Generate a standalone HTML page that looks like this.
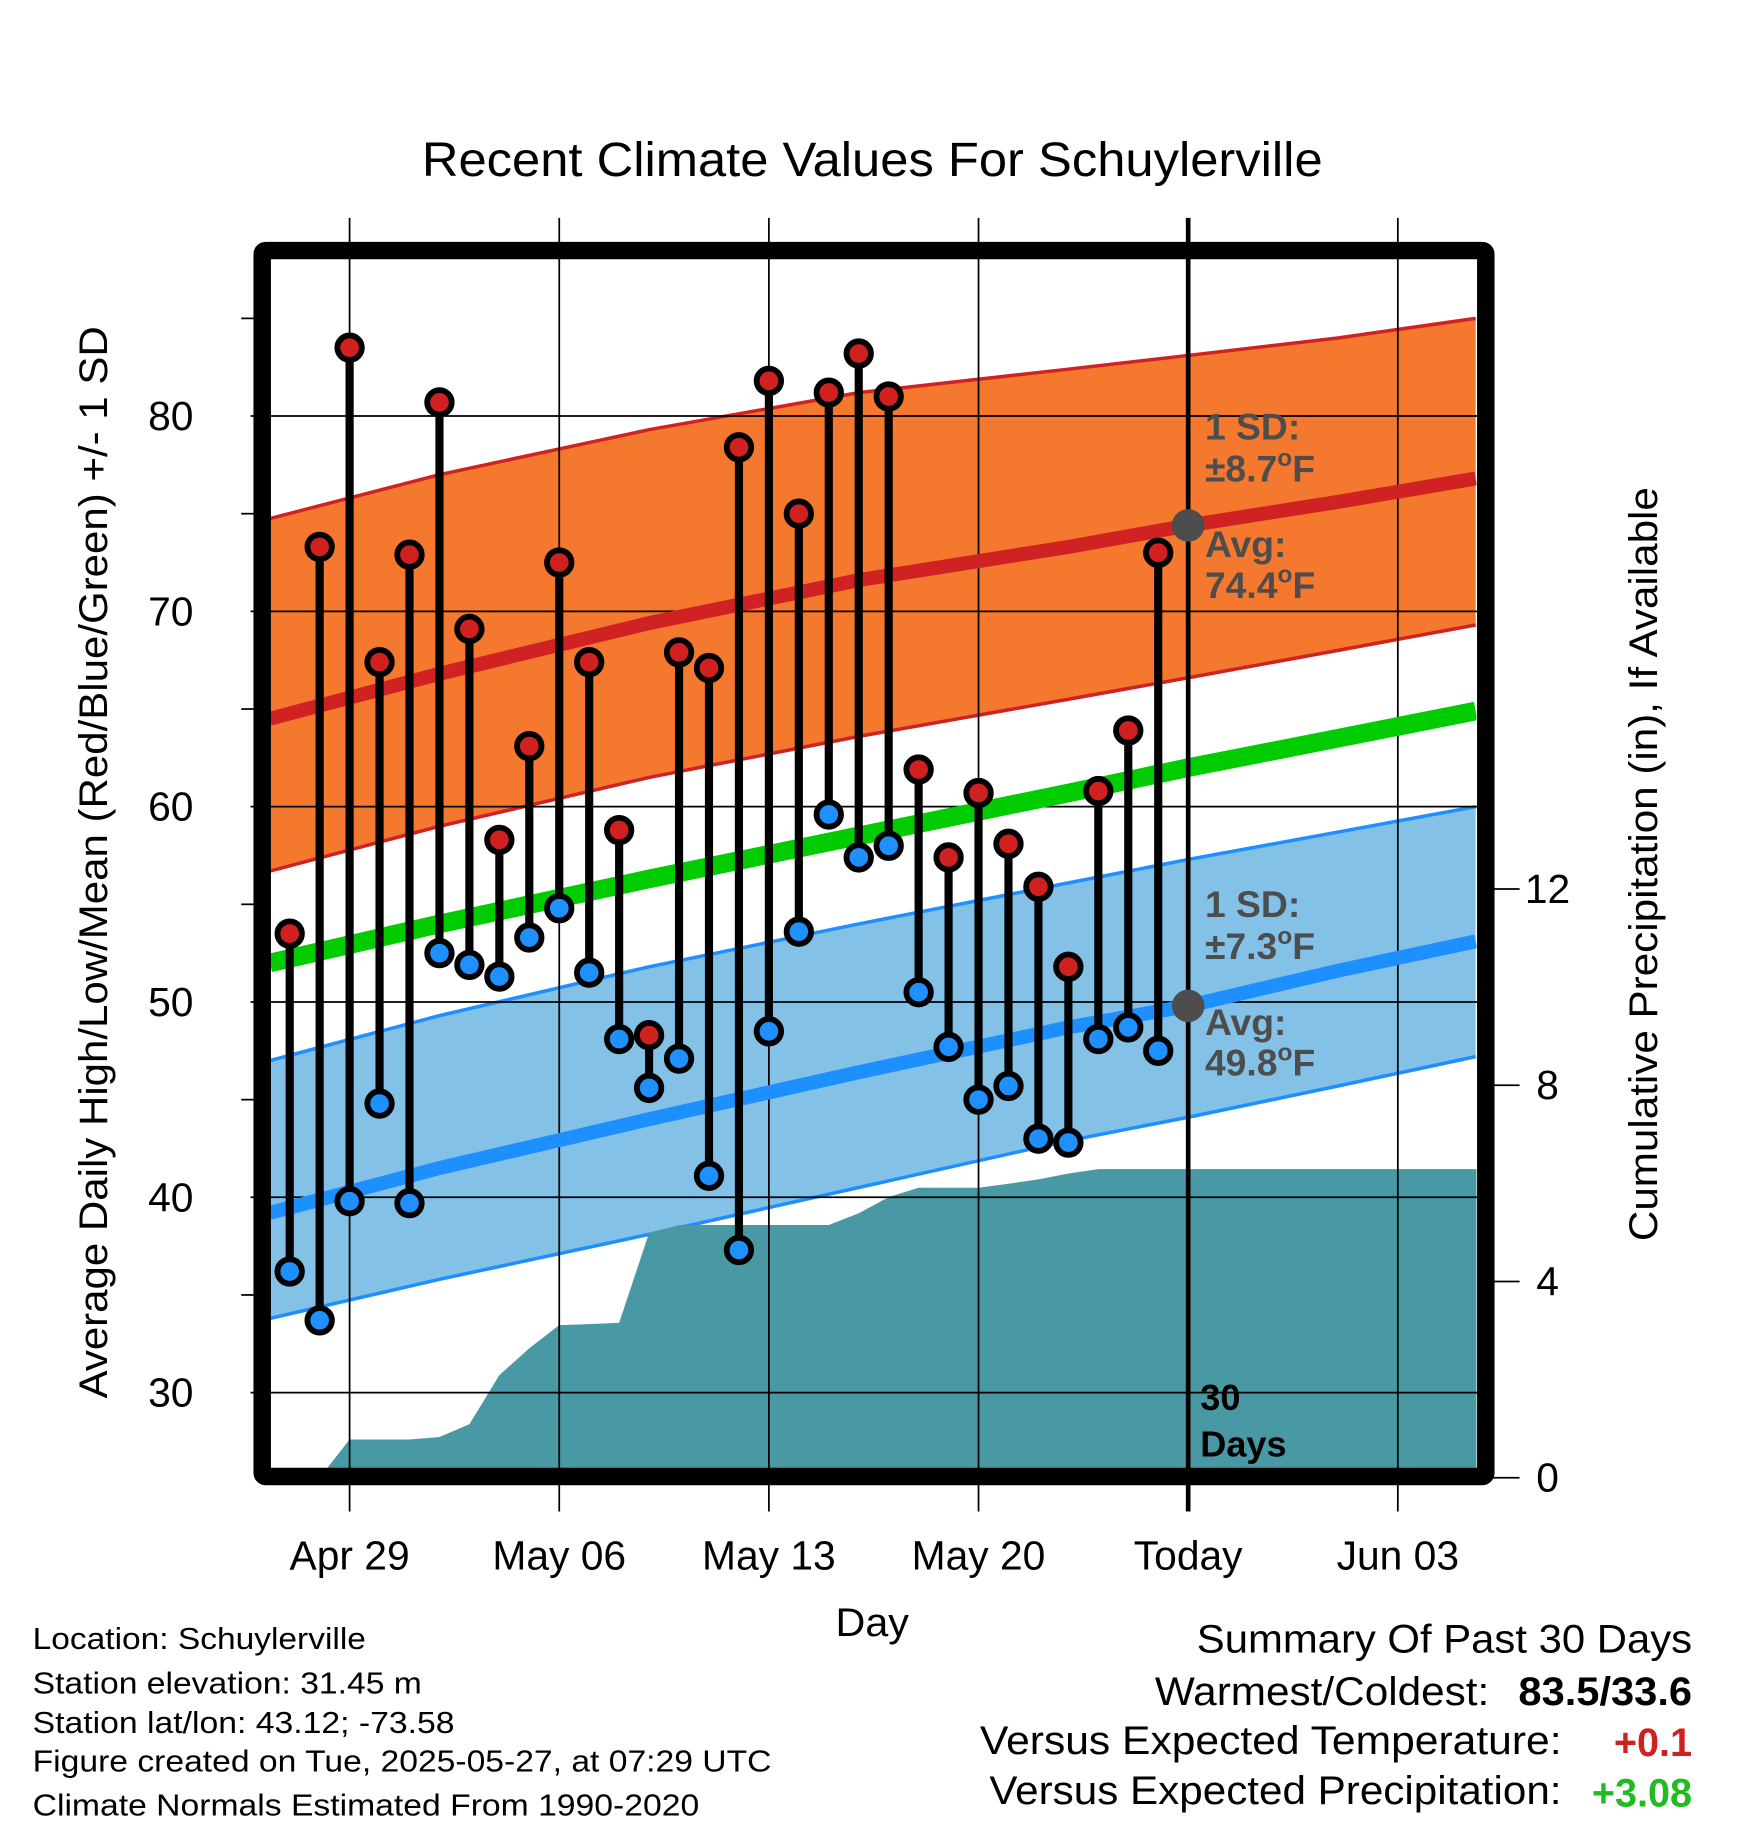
<!DOCTYPE html>
<html><head><meta charset="utf-8"><style>
html,body{margin:0;padding:0;background:#fff;}
svg{display:block;}
text{font-family:"Liberation Sans",Arial,sans-serif;}
</style></head><body>
<svg id="chart" width="1748" height="1828" viewBox="0 0 1500 1568.6" preserveAspectRatio="none" xmlns="http://www.w3.org/2000/svg">
<defs><clipPath id="plotclip"><rect x="232" y="222" width="1035" height="1038"/></clipPath></defs>
<text x="362" y="151" font-size="41" textLength="773" lengthAdjust="spacingAndGlyphs">Recent Climate Values For Schuylerville</text>
<g id="plot" clip-path="url(#plotclip)"></g>
<g id="over"></g>
<text transform="translate(92,1200) rotate(-90)" font-size="34" textLength="920" lengthAdjust="spacingAndGlyphs">Average Daily High/Low/Mean (Red/Blue/Green) +/- 1 SD</text>
<text transform="translate(1422,1065) rotate(-90)" font-size="34" textLength="647" lengthAdjust="spacingAndGlyphs">Cumulative Precipitation (in), If Available</text>
<text x="717" y="1404" font-size="34" textLength="63" lengthAdjust="spacingAndGlyphs">Day</text>
<g font-size="26">
<text x="28" y="1415" textLength="286" lengthAdjust="spacingAndGlyphs">Location: Schuylerville</text>
<text x="28" y="1453" textLength="334" lengthAdjust="spacingAndGlyphs">Station elevation: 31.45 m</text>
<text x="28" y="1487" textLength="362" lengthAdjust="spacingAndGlyphs">Station lat/lon: 43.12; -73.58</text>
<text x="28" y="1520" textLength="634" lengthAdjust="spacingAndGlyphs">Figure created on Tue, 2025-05-27, at 07:29 UTC</text>
<text x="28" y="1558" textLength="572" lengthAdjust="spacingAndGlyphs">Climate Normals Estimated From 1990-2020</text>
</g>
<g font-size="34">
<text x="1027" y="1418" textLength="425" lengthAdjust="spacingAndGlyphs">Summary Of Past 30 Days</text>
<text x="991" y="1463" textLength="287" lengthAdjust="spacingAndGlyphs">Warmest/Coldest:</text>
<text x="1303" y="1463" font-weight="bold" textLength="149" lengthAdjust="spacingAndGlyphs">83.5/33.6</text>
<text x="841" y="1505" textLength="499" lengthAdjust="spacingAndGlyphs">Versus Expected Temperature:</text>
<text x="1452" y="1507" font-weight="bold" fill="#d02020" text-anchor="end">+0.1</text>
<text x="849" y="1548" textLength="491" lengthAdjust="spacingAndGlyphs">Versus Expected Precipitation:</text>
<text x="1452" y="1550" font-weight="bold" fill="#22bb22" text-anchor="end">+3.08</text>
</g>
</svg>
<script>
const days=[-2,-1,0,1,2,3,4,5,6,7,8,9,10,11,12,13,14,15,16,17,18,19,20,21,22,23,24,25,26,27];
const highs=[53.5,73.3,83.5,67.4,72.9,80.7,69.1,58.3,63.1,72.5,67.4,58.8,48.3,67.9,67.1,78.4,81.8,75.0,81.2,83.2,81.0,61.9,57.4,60.7,58.1,55.9,51.8,60.8,63.9,73.0];
const lows=[36.2,33.7,39.8,44.8,39.7,52.5,51.9,51.3,53.3,54.8,51.5,48.1,45.6,47.1,41.1,37.3,48.5,53.6,59.6,57.4,58.0,50.5,47.7,45.0,45.7,43.0,42.8,48.1,48.7,47.5];
const normDays=[-2.66,3,10,17,24,28,33,37.6];
const highMean=[64.5,66.8,69.4,71.6,73.3,74.4,75.6,76.8];
const highUpper=[74.75,77.0,79.3,81.2,82.4,83.1,84.0,85.0];
const highLower=[56.7,59.0,61.5,63.6,65.5,66.6,68.0,69.3];
const lowMean=[39.2,41.5,44.0,46.4,48.7,49.8,51.6,53.1];
const lowUpper=[47.0,49.3,51.8,54.0,56.1,57.3,58.7,60.0];
const lowLower=[33.8,35.8,38.1,40.5,42.9,44.1,45.7,47.2];
const dailyMean=[52.0,54.0,56.3,58.5,60.7,62.0,63.5,64.9];
const precipDays=[-1,0,1,2,3,4,5,6,7,8,9,10,11,12,13,14,15,16,17,18,19,20,21,22,23,24,25,26,27,38];
const precipCum=[0,0.78,0.78,0.78,0.83,1.09,2.09,2.64,3.11,3.13,3.16,4.99,5.15,5.15,5.15,5.15,5.15,5.15,5.39,5.72,5.91,5.91,5.91,5.99,6.08,6.2,6.29,6.29,6.29,6.29];
const xTickDays=[0,7,14,21,28,35];
const xTickLabels=["Apr 29","May 06","May 13","May 20","Today","Jun 03"];
const yTicks=[30,40,50,60,70,80];
const y2Ticks=[0,4,8,12];
const todayDay=28;

const X=d=>300+d*25.7;
const Y=v=>1195-(v-30)*16.76;
const YP=p=>1268-p*42.1;
const NS='http://www.w3.org/2000/svg';
const plot=document.getElementById('plot'), over=document.getElementById('over');
function mk(tag,attrs,parent){const e=document.createElementNS(NS,tag);for(const k in attrs)e.setAttribute(k,attrs[k]);parent.appendChild(e);return e;}
function linePts(ds,vs){return ds.map((d,i)=>X(d).toFixed(1)+','+Y(vs[i]).toFixed(1)).join(' ');}
function band(up,lo,fill,edge,name){
  const pts=linePts(normDays,up)+' '+normDays.slice().reverse().map((d,i)=>X(d).toFixed(1)+','+Y(lo[lo.length-1-i]).toFixed(1)).join(' ');
  let e=mk('polygon',{points:pts,fill:fill},plot);
  
  
  e=mk('polyline',{points:linePts(normDays,up),fill:'none',stroke:edge,'stroke-width':3},plot);
  
  
  e=mk('polyline',{points:linePts(normDays,lo),fill:'none',stroke:edge,'stroke-width':3},plot);
  
  
}
band(highUpper,highLower,'#f4782e','#d02222','high-sd-band');
band(lowUpper,lowLower,'#84c1e6','#1e8fff','low-sd-band');
{
 const pts=precipDays.map((d,i)=>X(d).toFixed(1)+','+YP(precipCum[i]).toFixed(1)).join(' ')+' '+X(38)+','+1300+' '+X(-1)+','+1300;
 const e=mk('polygon',{points:pts,fill:'#4899a3'},plot);
 
 
}
yTicks.forEach(v=>{const e=mk('line',{x1:215,x2:1270,y1:Y(v),y2:Y(v),stroke:'#000','stroke-width':1.5},over);
 
 
 const t=mk('text',{x:166,y:Y(v)+12,'font-size':35,'text-anchor':'end'},over);t.textContent=v;
 
 
});
[35,45,55,65,75,85].forEach(v=>{const e=mk('line',{x1:207,x2:218,y1:Y(v),y2:Y(v),stroke:'#000','stroke-width':1.5},over);
 
 });
xTickDays.forEach((d,i)=>{
 if(d!==todayDay){const e=mk('line',{x1:X(d),x2:X(d),y1:187,y2:1297,stroke:'#000','stroke-width':1.5},over);
 
 }
 const t=mk('text',{x:X(d),y:1347,'font-size':35,'text-anchor':'middle'},over);t.textContent=xTickLabels[i];
 
 
});
y2Ticks.forEach(p=>{const e=mk('line',{x1:1275,x2:1304,y1:YP(p),y2:YP(p),stroke:'#000','stroke-width':1.5},over);
 
 
 const t=mk('text',{x:1328,y:YP(p)+12,'font-size':35,'text-anchor':'middle'},over);t.textContent=p;
 
 
});
[[highMean,'#d02222',12,'high-mean-line'],[lowMean,'#1e8fff',12,'low-mean-line'],[dailyMean,'#00cc00',16,'daily-mean-line']].forEach(a=>{
 const e=mk('polyline',{points:linePts(normDays,a[0]),fill:'none',stroke:a[1],'stroke-width':a[2],'clip-path':'url(#plotclip)'},over);
 
 
});
{const e=mk('line',{x1:X(todayDay),x2:X(todayDay),y1:187,y2:1297,stroke:'#000','stroke-width':4},over);
 
 }
days.forEach((d,i)=>{
 const g=mk('g',{},over);
 
 
 mk('line',{x1:X(d),x2:X(d),y1:Y(highs[i]),y2:Y(lows[i]),stroke:'#000','stroke-width':7},g);
 const h=mk('circle',{cx:X(d),cy:Y(highs[i]),r:10.5,fill:'#d02020',stroke:'#000','stroke-width':5},g);
 
 
 const l=mk('circle',{cx:X(d),cy:Y(lows[i]),r:10.5,fill:'#1e90ff',stroke:'#000','stroke-width':5},g);
 
 
});
[[highMean[5],'today-high-avg'],[lowMean[5],'today-low-avg']].forEach(a=>{
 const c=mk('circle',{cx:X(todayDay),cy:Y(a[0]),r:14,fill:'#4d4d4d'},over);
 
 
});
function ann(x,y,s,fill,name,fs){const t=mk('text',{x:x,y:y,'font-size':fs||32,'font-weight':'bold',fill:fill},over);t.innerHTML=s;
 
 }
ann(1034,377,'1 SD:','#4d4d4d','high-sd-label');
ann(1034,413,'±8.7<tspan dy="-13" font-size="21">o</tspan><tspan dy="13">F</tspan>','#4d4d4d','high-sd-value');
ann(1034,478,'Avg:','#4d4d4d','high-avg-label');
ann(1034,513,'74.4<tspan dy="-13" font-size="21">o</tspan><tspan dy="13">F</tspan>','#4d4d4d','high-avg-value');
ann(1034,787,'1 SD:','#4d4d4d','low-sd-label');
ann(1034,823,'±7.3<tspan dy="-13" font-size="21">o</tspan><tspan dy="13">F</tspan>','#4d4d4d','low-sd-value');
ann(1034,888,'Avg:','#4d4d4d','low-avg-label');
ann(1034,923,'49.8<tspan dy="-13" font-size="21">o</tspan><tspan dy="13">F</tspan>','#4d4d4d','low-avg-value');
ann(1030,1210,'30','#000','days-count-label',31);
ann(1030,1250,'Days','#000','days-label',31);
{const r=mk('rect',{x:225,y:215,width:1050,height:1052,fill:'none',stroke:'#000','stroke-width':15,rx:3},over);
 
 }
</script>
</body></html>
